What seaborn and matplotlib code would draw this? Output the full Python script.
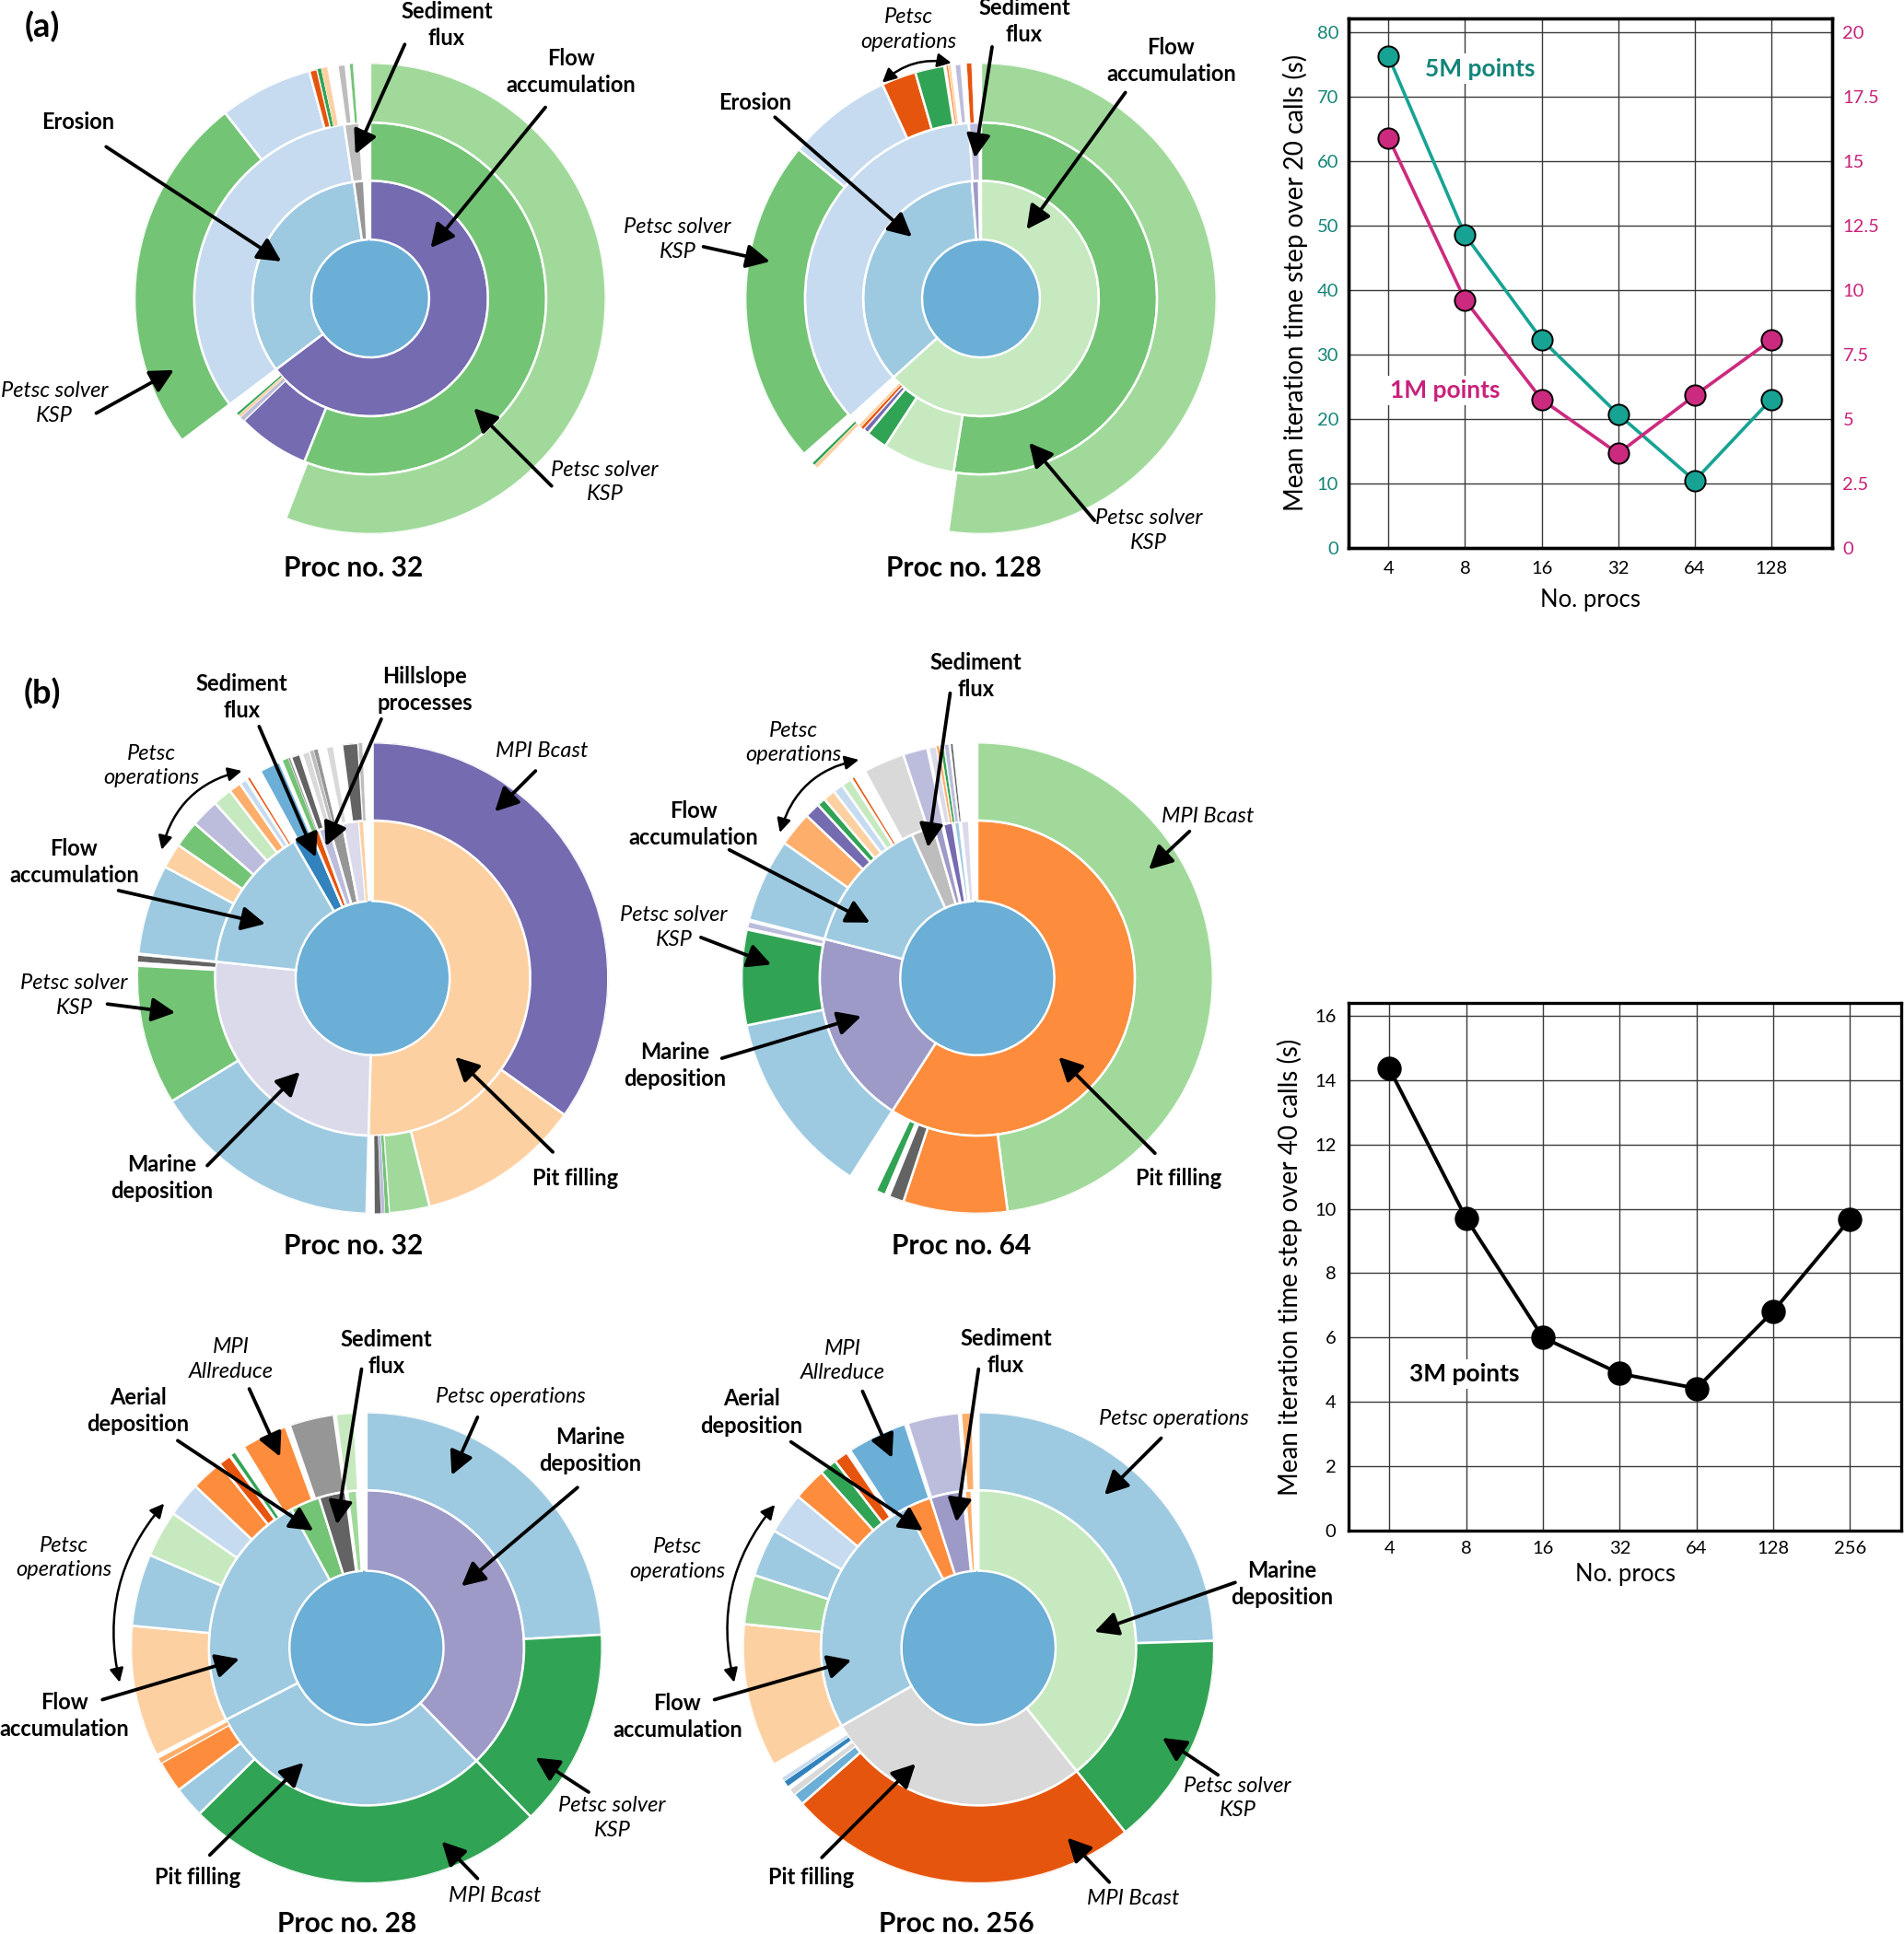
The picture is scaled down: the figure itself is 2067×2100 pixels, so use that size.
import numpy as np
import matplotlib
matplotlib.use("Agg")
import matplotlib.pyplot as plt
import seaborn as sns

sns.set_theme(style="white")
plt.rcParams["font.family"] = ["Lato", "DejaVu Sans"]

W, H = 1543.0, 1568.0
PAL = sns.color_palette("tab20c", 20).as_hex()

# ---------------- line chart data ----------------
PROCS_A = ["4", "8", "16", "32", "64", "128"]
TIME_5M = [76.2, 48.5, 32.3, 20.7, 10.4, 23.0]
TIME_1M = [15.9, 9.6, 5.75, 3.65, 5.9, 8.05]
PROCS_B = ["4", "8", "16", "32", "64", "128", "256"]
TIME_3M = [14.35, 9.7, 6.0, 4.88, 4.42, 6.82, 9.68]

# ---------------- sunburst data (segment spans in degrees, tab20c colour index, -1 = empty) ----
A32_R1_DEG = [233, 119, 5, 3]
A32_R1_COL = [12, 2, 17, -1]
A32_R2_DEG = [202, 24, 1.5, 1, 0.8, 3.7, 118.5, 5, 3.5]
A32_R2_COL = [9, 12, 14, 7, 8, -1, 3, 18, -1]
A32_R3_DEG = [201, 32, 89, 23, 2, 1, 1.5, 2.5, 2, 1, 0.8, 4.2]
A32_R3_COL = [10, -1, 9, 3, 4, 8, 7, -1, 18, -1, 9, -1]

A128_R1_DEG = [228, 127.5, 3.5, 1]
A128_R1_COL = [11, 2, 13, -1]
A128_R2_DEG = [189, 24, 7, 2, 1, 1, 4, 128, 3.5, 0.5]
A128_R2_COL = [9, 11, 8, 12, 4, 7, -1, 3, 14, -1]
A128_R3_DEG = [188, 36, 1, 0.7, 3, 80.6, 26, 8.5, 7.2, 0.5, 0.5, 0.6, 0.9, 1.7, 1.3, 1.2, 2.3]
A128_R3_COL = [10, -1, 7, 8, -1, 9, 3, 4, 8, -1, 5, 7, -1, 14, -1, 4, -1]

B32_R1_DEG = [181.5, 94.5, 54, 7, 3, 4, 5, 6, 1.5, 3.5]
B32_R1_COL = [7, 15, 2, 0, 4, 14, 17, 15, 7, -1]
B32_R2_DEG = [125.5, 40.5, 10, 1, 1, 1.5, 2, 57, 34.5, 1, 1.5, 0.5, 22.2, 6.2, 6.6, 7, 4.7, 3,
              1.8, 0.5, 0.5, 3, 5.2, 0.8, 1.5, 0.7, 2.3, 0.5, 2, 1, 1, 2, 2, 2, 4, 1, 2.5]
B32_R2_COL = [12, 7, 10, 9, 14, 16, -1, 2, 9, -1, 16, -1, 2, 7, 9, 14, 11, 6,
              3, -1, 4, -1, 1, -1, 9, 17, 16, -1, 19, 18, 17, -1, 19, -1, 16, 18, -1]

B64_R1_DEG = [212.6, 71.8, 51.1, 8.3, 3.2, 0.5, 3.5, 0.5, 2, 0.5, 3, 3]
B64_R1_COL = [5, 13, 2, 18, 13, -1, 12, -1, 2, -1, 15, -1]
B64_R2_DEG = [172.6, 25.7, 3.7, 1, 2.5, 7.1, 45.8, 23.5, 0.3, 1.8, 0.4, 20.6, 8.6, 3.8, 2.1, 3,
              2.5, 2.5, 0.5, 0.5, 3, 10.2, 6, 0.3, 2, 0.7, 0.3, 0.7, 0.3, 1, 0.5, 0.5, 6]
B64_R2_COL = [10, 5, 16, -1, 8, -1, 2, 8, -1, 14, -1, 2, 6, 12, 8, 7,
              3, 11, -1, 4, -1, 19, 14, -1, 15, 6, -1, 8, -1, 14, -1, 16, -1]

B28_R1_DEG = [135.8, 107.1, 88.7, 10.9, 9.8, 0.7, 3.5, 3.5]
B28_R1_COL = [13, 2, 2, 9, 16, -1, 10, -1]
B28_R2_DEG = [86.8, 49, 89.4, 7.7, 7.8, 1.3, 0.9, 32.5, 17.8, 11.6, 8.6, 8, 3.1, 0.5, 1, 2.6,
              11.3, 1.1, 11, 0.5, 4.5, 3]
B28_R2_COL = [2, 8, 8, 2, 5, 6, -1, 7, 2, 11, 3, 5, 4, -1, 8, -1,
              5, -1, 17, -1, 11, -1]

B256_R1_DEG = [141.5, 98.8, 92.5, 9.4, 12.1, 0.7, 2.5, 2.5]
B256_R1_COL = [11, 19, 2, 5, 13, -1, 6, -1]
B256_R2_DEG = [88.3, 53.2, 87, 3, 1.5, 1, 1.5, 1, 3.8, 35.5, 12.2, 11.8, 10.2, 8.2, 4.3, 3.5, 1,
               14.8, 0.7, 12.7, 0.5, 2.8, 1.5]
B256_R2_COL = [2, 8, 4, 1, 19, -1, 0, 3, -1, 7, 10, 2, 3, 5, 8, 4, -1,
               1, -1, 14, -1, 6, -1]

TEAL, TEAL_TXT = "#17a394", "#138478"
MAG, MAG_TXT = "#cc2a7e", "#c8217a"

fig = plt.figure(figsize=(20.67, 21.0), dpi=100)


def rect(x0, y0, x1, y1):
    return [x0 / W, 1 - y1 / H, (x1 - x0) / W, (y1 - y0) / H]


def sunburst(cx, cy, R, rings, radii):
    ax = fig.add_axes(rect(cx - R, cy - R, cx + R, cy + R), projection="polar")
    ax.set_theta_zero_location("N")
    ax.set_theta_direction(-1)
    ax.bar(0, radii[0], width=2 * np.pi, bottom=0, color=PAL[1], linewidth=0)
    for (degs, cols), r_in, r_out in zip(rings, radii[:-1], radii[1:]):
        degs = np.asarray(degs, float)
        cols = np.asarray(cols)
        start = np.concatenate([[0], np.cumsum(degs)[:-1]])
        mid = np.deg2rad(start + degs / 2)
        keep = cols >= 0
        lw = np.where(degs[keep] < 1.6, 0.3, 1.8)
        ax.bar(mid[keep], r_out - r_in, width=np.deg2rad(degs[keep]), bottom=r_in,
               color=[PAL[c] for c in cols[keep]], edgecolor="white", linewidth=lw,
               align="center")
    ax.set_ylim(0, 1)
    ax.set_axis_off()
    return ax


RA = [0.25, 0.5, 0.747, 1.0]
RB = [0.327, 0.669, 1.0]
sunburst(300, 242, 191, [(A32_R1_DEG, A32_R1_COL), (A32_R2_DEG, A32_R2_COL), (A32_R3_DEG, A32_R3_COL)], RA)
sunburst(795, 242, 191, [(A128_R1_DEG, A128_R1_COL), (A128_R2_DEG, A128_R2_COL), (A128_R3_DEG, A128_R3_COL)], RA)
sunburst(302, 793, 191, [(B32_R1_DEG, B32_R1_COL), (B32_R2_DEG, B32_R2_COL)], RB)
sunburst(792, 793, 191, [(B64_R1_DEG, B64_R1_COL), (B64_R2_DEG, B64_R2_COL)], RB)
sunburst(297, 1336, 191, [(B28_R1_DEG, B28_R1_COL), (B28_R2_DEG, B28_R2_COL)], RB)
sunburst(793, 1336, 191, [(B256_R1_DEG, B256_R1_COL), (B256_R2_DEG, B256_R2_COL)], RB)


def style_box(ax):
    for s in ax.spines.values():
        s.set_visible(True)
        s.set_linewidth(2.4)
        s.set_color("black")


# ---------------- line chart (a) ----------------
axA = fig.add_axes(rect(1093, 15, 1485, 444))
xa = np.arange(len(PROCS_A))
sns.lineplot(x=xa, y=TIME_5M, ax=axA, color=TEAL, lw=2.6, marker="o", markersize=16,
             markerfacecolor=TEAL, markeredgecolor="black", markeredgewidth=1.4, zorder=3)
axA.set_xlim(-0.52, 5.8)
axA.set_ylim(0, 82.1)
axA.set_xticks(xa)
axA.set_xticklabels(PROCS_A)
axA.set_yticks(np.arange(0, 81, 10))
axA.grid(True, color="#3a3a3a", lw=1.0)
axA.set_axisbelow(True)
axA.tick_params(axis="y", labelcolor=TEAL_TXT, labelsize=14.5, length=0, pad=8)
axA.tick_params(axis="x", labelcolor="black", labelsize=14.5, length=0, pad=10)
axA.set_ylabel("Mean iteration time step over 20 calls (s)", fontsize=20, labelpad=7, color="black")
axA.set_xlabel("No. procs", fontsize=18.5, labelpad=10, color="black")
axA.text(1.2, 74.3, "5M points", color=TEAL_TXT, fontweight="bold", fontsize=19,
         ha="center", va="center", bbox=dict(fc="white", ec="none", pad=3), zorder=2)
style_box(axA)

ax2 = axA.twinx()
sns.lineplot(x=xa, y=TIME_1M, ax=ax2, color=MAG, lw=2.6, marker="o", markersize=16,
             markerfacecolor=MAG, markeredgecolor="black", markeredgewidth=1.4, zorder=3)
ax2.set_ylim(0, 82.1 / 4)
ax2.set_yticks(np.arange(0, 20.1, 2.5))
ax2.set_yticklabels([f"{v:g}" for v in np.arange(0, 20.1, 2.5)])
ax2.grid(False)
ax2.tick_params(axis="y", labelcolor=MAG_TXT, labelsize=14.5, length=0, pad=8)
ax2.set_ylabel("")
ax2.text(0.74, 6.1, "1M points", color=MAG_TXT, fontweight="bold", fontsize=19,
         ha="center", va="center", bbox=dict(fc="white", ec="none", pad=3), zorder=2)
style_box(ax2)

# ---------------- line chart (b) ----------------
axB = fig.add_axes(rect(1093, 813, 1541, 1241))
xb = np.arange(len(PROCS_B))
sns.lineplot(x=xb, y=TIME_3M, ax=axB, color="black", lw=2.8, marker="o", markersize=18,
             markerfacecolor="black", markeredgecolor="black", markeredgewidth=1.0, zorder=3)
axB.set_xlim(-0.53, 6.67)
axB.set_ylim(0, 16.4)
axB.set_xticks(xb)
axB.set_xticklabels(PROCS_B)
axB.set_yticks(np.arange(0, 17, 2))
axB.grid(True, color="#3a3a3a", lw=1.0)
axB.set_axisbelow(True)
axB.tick_params(axis="both", labelcolor="black", labelsize=14.5, length=0)
axB.tick_params(axis="y", pad=10)
axB.tick_params(axis="x", pad=8)
axB.set_ylabel("Mean iteration time step over 40 calls (s)", fontsize=20, labelpad=9, color="black")
axB.set_xlabel("No. procs", fontsize=18.5, labelpad=5, color="black")
axB.text(0.98, 4.87, "3M points", color="black", fontweight="bold", fontsize=19,
         ha="center", va="center", bbox=dict(fc="white", ec="none", pad=3), zorder=2)
style_box(axB)

# ---------------- annotation overlay ----------------
ov = fig.add_axes([0, 0, 1, 1])
ov.set_xlim(0, W)
ov.set_ylim(H, 0)
ov.axis("off")
ov.set_zorder(10)
ov.patch.set_alpha(0)


def lab(x, y, s, bold=True, size=17):
    ov.text(x, y, s, ha="center", va="center", fontsize=size, linespacing=1.32,
            fontweight="bold" if bold else "normal", fontstyle="normal" if bold else "italic",
            color="black")


def arr(x1, y1, x2, y2):
    ov.annotate("", xy=(x2, y2), xytext=(x1, y1),
                arrowprops=dict(arrowstyle="-|>,head_length=0.55,head_width=0.28", lw=2.7,
                                color="black", shrinkA=0, shrinkB=0, mutation_scale=28))


def carr(x1, y1, x2, y2, rad):
    ov.annotate("", xy=(x2, y2), xytext=(x1, y1),
                arrowprops=dict(arrowstyle="<|-|>,head_length=0.5,head_width=0.25", lw=1.8,
                                color="black", shrinkA=0, shrinkB=0, mutation_scale=18,
                                connectionstyle=f"arc3,rad={rad}"))


lab(34, 22, "(a)", size=26)
lab(34, 562, "(b)", size=26)

# a - Proc 32
lab(362, 20, "Sediment\nflux"); arr(328, 36, 288, 125)
lab(463, 58, "Flow\naccumulation"); arr(442, 87, 349, 201)
lab(63, 99, "Erosion"); arr(86, 119, 228, 212)
lab(44, 327, "Petsc solver\nKSP", bold=False); arr(78, 335, 141, 300)
lab(490, 391, "Petsc solver\nKSP", bold=False); arr(447, 394, 384, 331)
lab(286, 461, "Proc no. 32", size=21.5)

# a - Proc 128
lab(736, 24, "Petsc\noperations", bold=False); carr(715, 67, 771, 51, -0.25)
lab(830, 17, "Sediment\nflux"); arr(804, 38, 790, 128)
lab(949, 49, "Flow\naccumulation"); arr(912, 75, 832, 186)
lab(612, 83, "Erosion"); arr(628, 95, 739, 192)
lab(549, 194, "Petsc solver\nKSP", bold=False); arr(570, 200, 624, 212)
lab(931, 430, "Petsc solver\nKSP", bold=False); arr(887, 422, 834, 359)
lab(781, 461, "Proc no. 128", size=21.5)

# b - Proc 32
lab(196, 565, "Sediment\nflux"); arr(210, 589, 256, 695)
lab(344, 559, "Hillslope\nprocesses"); arr(309, 583, 264, 686)
lab(439, 609, "MPI Bcast", bold=False); arr(434, 625, 401, 658)
lab(123, 621, "Petsc\noperations", bold=False); carr(196, 625, 131, 689, 0.3)
lab(60, 699, "Flow\naccumulation"); arr(96, 722, 215, 749)
lab(60, 807, "Petsc solver\nKSP", bold=False); arr(87, 814, 142, 821)
lab(131, 955, "Marine\ndeposition"); arr(168, 945, 243, 869)
lab(466, 955, "Pit filling"); arr(448, 934, 369, 857)
lab(286, 1010, "Proc no. 32", size=21.5)

# b - Proc 64
lab(791, 548, "Sediment\nflux"); arr(770, 562, 752, 687)
lab(643, 602, "Petsc\noperations", bold=False); carr(696, 616, 632, 675, 0.3)
lab(562, 668, "Flow\naccumulation"); arr(591, 689, 705, 748)
lab(979, 662, "MPI Bcast", bold=False); arr(964, 674, 931, 705)
lab(546, 752, "Petsc solver\nKSP", bold=False); arr(568, 760, 625, 782)
lab(547, 864, "Marine\ndeposition"); arr(585, 858, 698, 824)
lab(955, 955, "Pit filling"); arr(936, 935, 858, 857)
lab(779, 1010, "Proc no. 64", size=21.5)

# b - Proc 28
lab(187, 1102, "MPI\nAllreduce", bold=False); arr(202, 1126, 227, 1181)
lab(313, 1097, "Sediment\nflux"); arr(293, 1110, 273, 1236)
lab(112, 1144, "Aerial\ndeposition"); arr(144, 1168, 254, 1241)
lab(414, 1132, "Petsc operations", bold=False); arr(387, 1149, 366, 1196)
lab(478, 1176, "Marine\ndeposition"); arr(468, 1206, 374, 1286)
lab(52, 1263, "Petsc\noperations", bold=False); carr(133, 1219, 97, 1364, 0.25)
lab(52, 1391, "Flow\naccumulation"); arr(83, 1378, 194, 1345)
lab(160, 1522, "Pit filling"); arr(170, 1504, 246, 1429)
lab(496, 1474, "Petsc solver\nKSP", bold=False); arr(477, 1453, 434, 1425)
lab(401, 1537, "MPI Bcast", bold=False); arr(387, 1523, 358, 1493)
lab(281, 1560, "Proc no. 28", size=21.5)

# b - Proc 256
lab(683, 1103, "MPI\nAllreduce", bold=False); arr(699, 1128, 723, 1182)
lab(815, 1096, "Sediment\nflux"); arr(793, 1110, 775, 1234)
lab(609, 1145, "Aerial\ndeposition"); arr(641, 1169, 748, 1241)
lab(951, 1150, "Petsc operations", bold=False); arr(941, 1166, 895, 1212)
lab(1039, 1284, "Marine\ndeposition"); arr(1001, 1283, 887, 1323)
lab(549, 1264, "Petsc\noperations", bold=False); carr(628, 1220, 595, 1364, 0.25)
lab(549, 1392, "Flow\naccumulation"); arr(579, 1378, 690, 1346)
lab(657, 1522, "Pit filling"); arr(666, 1506, 742, 1430)
lab(1003, 1458, "Petsc solver\nKSP", bold=False); arr(987, 1439, 942, 1409)
lab(918, 1539, "MPI Bcast", bold=False); arr(899, 1526, 865, 1490)
lab(775, 1560, "Proc no. 256", size=21.5)

fig.savefig("out.png", dpi=100, facecolor="white")
